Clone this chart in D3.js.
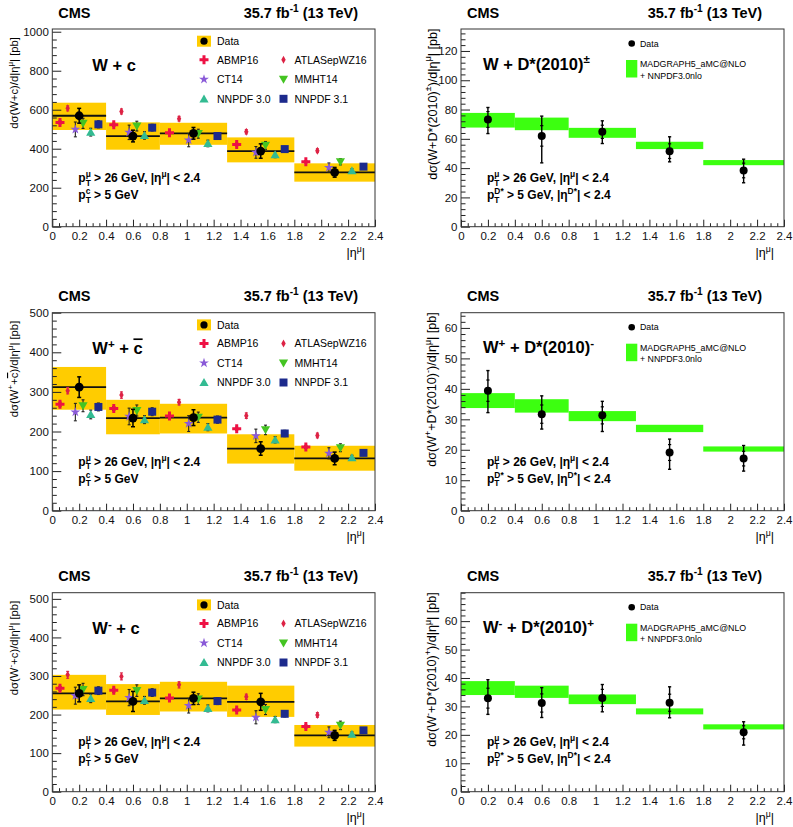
<!DOCTYPE html>
<html><head><meta charset="utf-8">
<script src="https://cdn.jsdelivr.net/npm/d3@7"></script>
<style>body{margin:0;background:#fff} text{font-family:"Liberation Sans",Arial,Helvetica,sans-serif}</style>
</head><body><svg id="c" width="793" height="827"></svg>
<script>
// ---------- shared binning / ticks ----------
const binEdges = [0, 0.4, 0.8, 1.3, 1.8, 2.4];
const binCenters = [0.2, 0.6, 1.05, 1.55, 2.1];
const xTickVals = [0, 0.2, 0.4, 0.6, 0.8, 1, 1.2, 1.4, 1.6, 1.8, 2, 2.2, 2.4];
const xTickLabels = ["0","0.2","0.4","0.6","0.8","1","1.2","1.4","1.6","1.8","2","2.2","2.4"];
const modelNames = ["ABMP16", "ATLASepWZ16", "CT14", "MMHT14", "NNPDF 3.0", "NNPDF 3.1"];

// ---------- W + c ----------
const wcYTicks = [0, 200, 400, 600, 800, 1000];
const wcData = [569, 465, 479, 388, 279];
const wcDataErr = [38, 30, 30, 37, 25];
const wcBandLo = [496, 395, 420, 330, 231];
const wcBandHi = [636, 535, 533, 458, 325];
const wcABMP = [535, 523, 482, 422, 333];
const wcATLAS = [607, 591, 554, 487, 390];
const wcCT14 = [499, 484, 444, 381, 303];
const wcMMHT = [530, 516, 477, 417, 333];
const wcNNPDF30 = [485, 468, 427, 369, 287];
const wcNNPDF31 = [525, 508, 465, 398, 308];
const wcABMPErr = [8, 8, 8, 7, 6];
const wcATLASErr = [13, 13, 12, 11, 10];
const wcCT14Err = [38, 37, 34, 30, 24];
const wcMMHTErr = [26, 25, 23, 20, 16];
const wcNNPDF30Err = [20, 19, 17, 15, 10];
const wcNNPDF31Err = [18, 17, 16, 14, 11];

// ---------- W+ + cbar ----------
const wpYTicks = [0, 100, 200, 300, 400, 500];
const wpData = [312, 234, 235, 157, 132];
const wpDataErr = [26, 22, 20, 17, 16];
const wpBandLo = [255, 193, 195, 119, 101];
const wpBandHi = [363, 280, 270, 193, 164];
const wpABMP = [269, 258, 239, 207, 161];
const wpATLAS = [303, 292, 274, 240, 190];
const wpCT14 = [249, 238, 220, 189, 145];
const wpMMHT = [265, 253, 236, 204, 159];
const wpNNPDF30 = [243, 230, 211, 179, 134];
const wpNNPDF31 = [262, 250, 230, 195, 146];
const wpABMPErr = [5, 5, 5, 4, 4];
const wpATLASErr = [8, 8, 7, 7, 6];
const wpCT14Err = [22, 21, 20, 17, 14];
const wpMMHTErr = [15, 14, 13, 12, 10];
const wpNNPDF30Err = [11, 10, 9, 8, 6];
const wpNNPDF31Err = [10, 10, 9, 8, 6];

// ---------- W- + c ----------
const wmYTicks = [0, 100, 200, 300, 400, 500];
const wmData = [255, 234, 242, 233, 146];
const wmDataErr = [22, 26, 16, 22, 13];
const wmBandLo = [213, 199, 208, 194, 117];
const wmBandHi = [303, 279, 285, 275, 173];
const wmABMP = [268, 263, 243, 212, 169];
const wmATLAS = [303, 299, 277, 246, 199];
const wmCT14 = [249, 244, 223, 193, 154];
const wmMMHT = [265, 262, 240, 213, 172];
const wmNNPDF30 = [242, 237, 216, 187, 149];
const wmNNPDF31 = [262, 257, 235, 202, 159];
const wmABMPErr = [5, 5, 5, 4, 4];
const wmATLASErr = [9, 9, 8, 7, 6];
const wmCT14Err = [22, 21, 19, 17, 14];
const wmMMHTErr = [16, 15, 14, 13, 11];
const wmNNPDF30Err = [11, 10, 9, 8, 6];
const wmNNPDF31Err = [10, 10, 9, 8, 6];

// ---------- W + D*(2010)± ----------
const dsYTicks = [0, 20, 40, 60, 80, 100, 120];
const dsMGLo = [67.7, 65.9, 60.7, 53.0, 42.0];
const dsMGHi = [77.7, 74.5, 67.5, 58.0, 45.5];
const dsData = [73.2, 62.0, 64.8, 51.6, 38.4];
const dsErrUp = [8.2, 13.5, 7.5, 9.8, 7.7];
const dsErrDn = [9.6, 18.4, 8.0, 7.3, 8.4];
const dsStat = [5.4, 7.0, 4.5, 5.0, 5.0];

// ---------- W+ + D*(2010)- ----------
const dpYTicks = [0, 10, 20, 30, 40, 50, 60];
const dpMGLo = [33.7, 32.2, 29.4, 25.8, 19.4];
const dpMGHi = [38.6, 36.6, 32.7, 28.2, 21.1];
const dpData = [39.4, 31.7, 31.3, 19.1, 17.1];
const dpErrUp = [6.6, 6.0, 4.6, 4.4, 4.3];
const dpErrDn = [7.2, 4.9, 5.3, 5.5, 4.1];
const dpStat = [3.5, 3.0, 2.8, 2.6, 2.4];

// ---------- W- + D*(2010)+ ----------
const dmYTicks = [0, 10, 20, 30, 40, 50, 60];
const dmMGLo = [34.0, 33.0, 30.8, 27.2, 21.9];
const dmMGHi = [38.9, 37.3, 34.2, 29.3, 23.7];
const dmData = [32.9, 31.2, 33.0, 31.3, 20.9];
const dmErrUp = [6.5, 5.4, 4.7, 5.6, 3.7];
const dmErrDn = [5.7, 5.1, 4.9, 5.3, 4.5];
const dmStat = [3.5, 3.2, 3.0, 3.0, 2.3];

// ================= drawing =================
const svg = d3.select("#c");
const rowTop = [29, 312.7, 592.7];
const rowBot = [226.7, 510.7, 791.7];
const colLeft = [52.3, 461];
const colRight = [375, 784];

const modelStyle = [
  {color: "#ee1144", path: "M-1.5,-4.5h3v3h3v3h-3v3h-3v-3h-3v-3h3Z"},
  {color: "#dd2244", path: "M0,-4L2.2,0L0,4L-2.2,0Z"},
  {color: "#8a5ad8", path: d3.symbol(d3.symbolStar, 30)()},
  {color: "#44c422", path: "M-4.6,-3.6L4.6,-3.6L0,4.4Z"},
  {color: "#33bb92", path: "M-4.6,3.6L4.6,3.6L0,-4.4Z"},
  {color: "#1c2a8c", path: "M-4,-4h8v8h-8Z"}
];
const modelFrac = [1/7, 2/7, 3/7, 4/7, 5/7, 6/7];

function rich(parent, segs, size) {
  let cur = 0, lastSupW = 0, pend = 0;
  segs.forEach(s => {
    const tgt = s.sup ? -0.4 * size : (s.sub ? 0.3 * size : 0);
    const ts = parent.append("tspan").attr("dy", (tgt - cur).toFixed(2)).text(s.t);
    if (s.sup || s.sub) ts.attr("font-size", (size * 0.7).toFixed(2));
    if (s.over) ts.style("text-decoration", "overline");
    let dx = pend; pend = 0;
    if (s.stack) dx -= lastSupW;
    if (dx) ts.attr("dx", dx.toFixed(2));
    const w = ts.node().getComputedTextLength();
    if (s.sup) lastSupW = w;
    if (s.stack) pend = Math.max(0, lastSupW - w);
    cur = tgt;
  });
}
function txt(x, y, segs, size, opts = {}) {
  const t = svg.append("text").attr("x", x).attr("y", y).attr("font-size", size)
    .attr("fill", "#000");
  if (opts.bold) t.attr("font-weight", "bold");
  if (opts.anchor) t.attr("text-anchor", opts.anchor);
  if (opts.rotate) t.attr("transform", `rotate(-90,${x},${y})`);
  rich(t, segs, size);
  return t;
}

function axes(p, x, y) {
  const g = svg.append("g");
  const minors = d3.range(0, Math.floor(p.ymax / p.minorStep + 1e-6) + 1).map(i => i * p.minorStep)
    .filter(v => !p.yTicks.some(t => Math.abs(t - v) < 1e-6));
  g.append("g").attr("transform", `translate(${p.left},0)`)
    .call(d3.axisLeft(y).tickValues(minors).tickSize(-4.5).tickFormat(""))
    .call(a => a.select(".domain").remove());
  g.append("g").attr("transform", `translate(${p.left},0)`)
    .call(d3.axisLeft(y).tickValues(p.yTicks).tickSize(-9).tickPadding(3.5).tickFormat(d3.format("d")))
    .call(a => a.select(".domain").remove());
  const xmin = d3.range(0, 49).filter(i => i % 4 !== 0).map(i => i * 0.05);
  g.append("g").attr("transform", `translate(0,${p.bottom})`)
    .call(d3.axisBottom(x).tickValues(xmin).tickSize(-3.5).tickFormat(""))
    .call(a => a.select(".domain").remove());
  g.append("g").attr("transform", `translate(0,${p.bottom})`)
    .call(d3.axisBottom(x).tickValues(xTickVals).tickSize(-7).tickPadding(5)
      .tickFormat((d, i) => xTickLabels[i]))
    .call(a => a.select(".domain").remove());
  g.selectAll("text").attr("font-size", 11.5).attr("fill", "#111")
    .attr("font-family", '"Liberation Sans",Arial,sans-serif');
  g.selectAll("line").attr("stroke", "#222").attr("stroke-width", 1);
  svg.append("rect").attr("x", p.left).attr("y", p.top)
    .attr("width", p.right - p.left).attr("height", p.bottom - p.top)
    .attr("fill", "none").attr("stroke", "#333").attr("stroke-width", 1);
}

function header(p) {
  txt(p.left + 6, p.top - 11.5, [{t: "CMS"}], 14.5, {bold: true});
  txt(p.lumiX, p.top - 11.5, [{t: "35.7 fb"}, {t: "-1", sup: true}, {t: " (13 TeV)"}], 14.5, {bold: true, anchor: "end"});
  txt(p.right - 10, p.bottom + 30, [{t: "|η"}, {t: "μ", sup: true}, {t: "|"}], 12.5, {anchor: "end"});
}

function errBar(g, xp, y0, y1, cap, color, w) {
  g.append("line").attr("x1", xp).attr("x2", xp).attr("y1", y0).attr("y2", y1)
    .attr("stroke", color).attr("stroke-width", w);
  [y0, y1].forEach(yy => g.append("line").attr("x1", xp - cap).attr("x2", xp + cap)
    .attr("y1", yy).attr("y2", yy).attr("stroke", color).attr("stroke-width", w));
}

function pdfPanel(p) {
  const x = d3.scaleLinear().domain([0, 2.4]).range([p.left, p.right]);
  const y = d3.scaleLinear().domain([0, p.ymax]).range([p.bottom, p.top]);
  const g = svg.append("g");
  p.data.forEach((v, i) => {
    g.append("rect").attr("x", x(binEdges[i])).attr("width", x(binEdges[i + 1]) - x(binEdges[i]))
      .attr("y", y(p.bandHi[i])).attr("height", y(p.bandLo[i]) - y(p.bandHi[i])).attr("fill", "#ffcc00");
  });
  p.data.forEach((v, i) => {
    g.append("line").attr("x1", x(binEdges[i])).attr("x2", x(binEdges[i + 1]))
      .attr("y1", y(v)).attr("y2", y(v)).attr("stroke", "#111").attr("stroke-width", 1.8);
  });
  axes(p, x, y);
  const gm = svg.append("g");
  p.models.forEach((vals, m) => {
    vals.forEach((v, i) => {
      const xv = binEdges[i] + modelFrac[m] * (binEdges[i + 1] - binEdges[i]);
      errBar(gm, x(xv), y(v - p.modelErr[m][i]), y(v + p.modelErr[m][i]), 1.5, m === 1 ? modelStyle[1].color : "#222", 1.1);
    });
  });
  p.models.forEach((vals, m) => {
    vals.forEach((v, i) => {
      const xv = binEdges[i] + modelFrac[m] * (binEdges[i + 1] - binEdges[i]);
      gm.append("path").attr("d", modelStyle[m].path).attr("fill", modelStyle[m].color)
        .attr("transform", `translate(${x(xv)},${y(v)})`);
    });
  });
  p.data.forEach((v, i) => {
    errBar(gm, x(binCenters[i]), y(v - p.dataErr[i]), y(v + p.dataErr[i]), 2, "#000", 1.5);
    gm.append("circle").attr("cx", x(binCenters[i])).attr("cy", y(v)).attr("r", 4.4).attr("fill", "#000");
  });
  header(p);
  const lt = p.top;
  svg.append("rect").attr("x", 197).attr("y", lt + 6.7).attr("width", 14).attr("height", 11).attr("fill", "#ffcc00");
  svg.append("circle").attr("cx", 204).attr("cy", lt + 12.2).attr("r", 3.6).attr("fill", "#000");
  txt(217, lt + 16, [{t: "Data"}], 10.5);
  const rows = [30.8, 50.3, 69.8];
  modelNames.forEach((nm, m) => {
    const col = m % 2, row = Math.floor(m / 2);
    const mx = col === 0 ? 204 : 283.5, tx = col === 0 ? 217 : 294.5;
    svg.append("path").attr("d", modelStyle[m].path).attr("fill", modelStyle[m].color)
      .attr("transform", `translate(${mx},${lt + rows[row]})`);
    txt(tx, lt + rows[row] + 3.8, [{t: nm}], 10.5);
  });
  txt(p.left + 40, p.top + 41.7, p.label, 16.5, {bold: true});
  txt(p.left + 26, p.top + 153, [{t: "p"}, {t: "μ", sup: true}, {t: "T", sub: true, stack: true}, {t: " > 26 GeV, |η"}, {t: "μ", sup: true}, {t: "| < 2.4"}], 12, {bold: true});
  txt(p.left + 26, p.top + 170, [{t: "p"}, {t: "c", sup: true}, {t: "T", sub: true, stack: true}, {t: " > 5 GeV"}], 12, {bold: true});
  txt(18, p.top + 8, p.ytitle, 11.3, {anchor: "end", rotate: true});
}

function dstarPanel(p) {
  const x = d3.scaleLinear().domain([0, 2.4]).range([p.left, p.right]);
  const y = d3.scaleLinear().domain([0, p.ymax]).range([p.bottom, p.top]);
  const g = svg.append("g");
  p.mgLo.forEach((v, i) => {
    g.append("rect").attr("x", x(binEdges[i])).attr("width", x(binEdges[i + 1]) - x(binEdges[i]))
      .attr("y", y(p.mgHi[i])).attr("height", y(v) - y(p.mgHi[i])).attr("fill", "#3cff10");
  });
  axes(p, x, y);
  const gd = svg.append("g");
  p.data.forEach((v, i) => {
    const xp = x(binCenters[i]);
    errBar(gd, xp, y(v - p.errDn[i]), y(v + p.errUp[i]), 1.6, "#000", 1.4);
    [v - p.stat[i], v + p.stat[i]].forEach(s => gd.append("line").attr("x1", xp - 1.6).attr("x2", xp + 1.6)
      .attr("y1", y(s)).attr("y2", y(s)).attr("stroke", "#000").attr("stroke-width", 1.2));
    gd.append("circle").attr("cx", xp).attr("cy", y(v)).attr("r", 4).attr("fill", "#000");
  });
  header(p);
  const lt = p.top;
  svg.append("circle").attr("cx", 631.7).attr("cy", lt + 14.5).attr("r", 3.3).attr("fill", "#000");
  txt(640, lt + 17.6, [{t: "Data"}], 8.8);
  svg.append("rect").attr("x", 626).attr("y", lt + 31).attr("width", 11.3).attr("height", 17.5).attr("fill", "#3cff10");
  txt(640, lt + 37.8, [{t: "MADGRAPH5_aMC@NLO"}], 8.8);
  txt(640, lt + 49.5, [{t: "+ NNPDF3.0nlo"}], 8.8);
  txt(p.left + 22, p.top + 40.5, p.label, 16.5, {bold: true});
  txt(p.left + 26, p.top + 153, [{t: "p"}, {t: "μ", sup: true}, {t: "T", sub: true, stack: true}, {t: " > 26 GeV, |η"}, {t: "μ", sup: true}, {t: "| < 2.4"}], 12, {bold: true});
  txt(p.left + 26, p.top + 170, [{t: "p"}, {t: "D*", sup: true}, {t: "T", sub: true, stack: true}, {t: " > 5 GeV,  |η"}, {t: "D*", sup: true}, {t: "| < 2.4"}], 12, {bold: true});
  txt(436.5, p.top - 0.5, p.ytitle, 12.6, {anchor: "end", rotate: true});
}

const yEnd = [{t: ")/d|η"}, {t: "μ", sup: true}, {t: "|  [pb]"}];

pdfPanel({left: colLeft[0], right: colRight[0], top: rowTop[0], bottom: rowBot[0], lumiX: 358,
  ymax: 1014, yTicks: wcYTicks, minorStep: 40,
  data: wcData, dataErr: wcDataErr, bandLo: wcBandLo, bandHi: wcBandHi,
  models: [wcABMP, wcATLAS, wcCT14, wcMMHT, wcNNPDF30, wcNNPDF31],
  modelErr: [wcABMPErr, wcATLASErr, wcCT14Err, wcMMHTErr, wcNNPDF30Err, wcNNPDF31Err],
  label: [{t: "W + c"}],
  ytitle: [{t: "dσ(W+c"}].concat(yEnd)});

pdfPanel({left: colLeft[0], right: colRight[0], top: rowTop[1], bottom: rowBot[1], lumiX: 358,
  ymax: 500, yTicks: wpYTicks, minorStep: 20,
  data: wpData, dataErr: wpDataErr, bandLo: wpBandLo, bandHi: wpBandHi,
  models: [wpABMP, wpATLAS, wpCT14, wpMMHT, wpNNPDF30, wpNNPDF31],
  modelErr: [wpABMPErr, wpATLASErr, wpCT14Err, wpMMHTErr, wpNNPDF30Err, wpNNPDF31Err],
  label: [{t: "W"}, {t: "+", sup: true}, {t: " + "}, {t: "c", over: true}],
  ytitle: [{t: "dσ(W"}, {t: "+", sup: true}, {t: "+"}, {t: "c", over: true}].concat(yEnd)});

pdfPanel({left: colLeft[0], right: colRight[0], top: rowTop[2], bottom: rowBot[2], lumiX: 358,
  ymax: 516, yTicks: wmYTicks, minorStep: 20,
  data: wmData, dataErr: wmDataErr, bandLo: wmBandLo, bandHi: wmBandHi,
  models: [wmABMP, wmATLAS, wmCT14, wmMMHT, wmNNPDF30, wmNNPDF31],
  modelErr: [wmABMPErr, wmATLASErr, wmCT14Err, wmMMHTErr, wmNNPDF30Err, wmNNPDF31Err],
  label: [{t: "W"}, {t: "-", sup: true}, {t: " + c"}],
  ytitle: [{t: "dσ(W"}, {t: "-", sup: true}, {t: "+c"}].concat(yEnd)});

dstarPanel({left: colLeft[1], right: colRight[1], top: rowTop[0], bottom: rowBot[0], lumiX: 762,
  ymax: 135, yTicks: dsYTicks, minorStep: 4,
  mgLo: dsMGLo, mgHi: dsMGHi, data: dsData, errUp: dsErrUp, errDn: dsErrDn, stat: dsStat,
  label: [{t: "W + D*(2010)"}, {t: "±", sup: true}],
  ytitle: [{t: "dσ(W+D*(2010)"}, {t: "±", sup: true}].concat(yEnd)});

dstarPanel({left: colLeft[1], right: colRight[1], top: rowTop[1], bottom: rowBot[1], lumiX: 762,
  ymax: 65, yTicks: dpYTicks, minorStep: 2,
  mgLo: dpMGLo, mgHi: dpMGHi, data: dpData, errUp: dpErrUp, errDn: dpErrDn, stat: dpStat,
  label: [{t: "W"}, {t: "+", sup: true}, {t: " + D*(2010)"}, {t: "-", sup: true}],
  ytitle: [{t: "dσ(W"}, {t: "+", sup: true}, {t: "+D*(2010)"}, {t: "-", sup: true}].concat(yEnd)});

dstarPanel({left: colLeft[1], right: colRight[1], top: rowTop[2], bottom: rowBot[2], lumiX: 762,
  ymax: 70, yTicks: dmYTicks, minorStep: 2,
  mgLo: dmMGLo, mgHi: dmMGHi, data: dmData, errUp: dmErrUp, errDn: dmErrDn, stat: dmStat,
  label: [{t: "W"}, {t: "-", sup: true}, {t: " + D*(2010)"}, {t: "+", sup: true}],
  ytitle: [{t: "dσ(W"}, {t: "-", sup: true}, {t: "+D*(2010)"}, {t: "+", sup: true}].concat(yEnd)});
</script></body></html>
